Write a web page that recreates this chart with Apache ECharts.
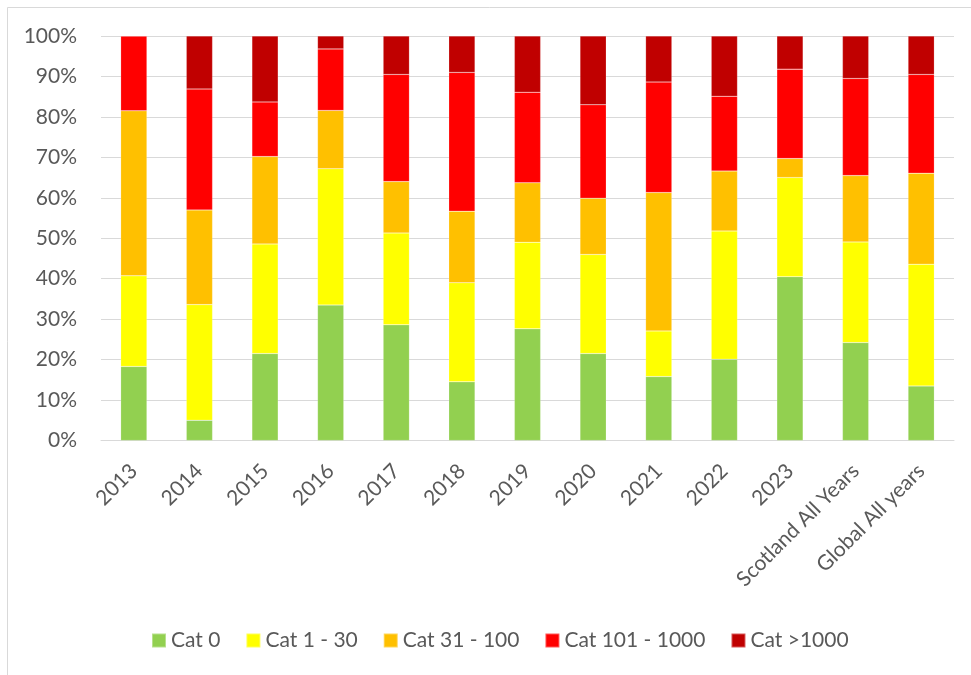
<!DOCTYPE html>
<html>
<head>
<meta charset="utf-8">
<script src="https://cdn.jsdelivr.net/npm/echarts@6/dist/echarts.min.js"></script>
<style>html,body{margin:0;padding:0;background:#fff}#c{width:971px;height:675px}</style>
</head>
<body>
<div id="c"></div>
<script>
const categories = ['2013','2014','2015','2016','2017','2018','2019','2020','2021','2022','2023','Scotland All Years','Global All years'];
const cat0      = [18.3, 5.0, 21.5, 33.5, 28.6, 14.5, 27.6, 21.5, 15.8, 20.1, 40.5, 24.2, 13.5];
const cat1_30   = [22.4, 28.6, 27.1, 33.7, 22.7, 24.5, 21.4, 24.5, 11.3, 31.7, 24.5, 24.9, 30.1];
const cat31_100 = [40.8, 23.4, 21.6, 14.4, 12.7, 17.7, 14.7, 13.9, 34.2, 14.8, 4.7, 16.4, 22.5];
const cat101_1000 = [18.5, 29.9, 13.5, 15.2, 26.5, 34.3, 22.4, 23.1, 27.3, 18.5, 22.1, 24.0, 24.4];
const cat1000   = [0.0, 13.1, 16.3, 3.2, 9.5, 9.0, 13.9, 17.0, 11.4, 14.9, 8.2, 10.5, 9.5];
const seriesNames = ['Cat 0','Cat 1 - 30','Cat 31 - 100','Cat 101 - 1000','Cat >1000'];
const seriesColors = ['#92D050','#FFFF00','#FFC000','#FF0000','#C00000'];
const yTicks = [0,10,20,30,40,50,60,70,80,90,100];

const seriesData = [cat0, cat1_30, cat31_100, cat101_1000, cat1000];
const font = 'Lato, "Open Sans", sans-serif';

const chart = echarts.init(document.getElementById('c'), null, {renderer:'canvas'});
chart.setOption({
  animation: false,
  backgroundColor: '#fff',
  graphic: [{
    type: 'rect', shape: {x: 7.5, y: 7.5, width: 1200, height: 1200},
    style: {fill: 'none', stroke: '#d9d9d9', lineWidth: 1}, silent: true, z: -1
  }],
  grid: {left: 101, right: 17, top: 36, bottom: 234.5},
  legend: {
    left: 146, top: 625, itemWidth: 14, itemHeight: 14, itemGap: 25,
    icon: 'rect',
    textStyle: {fontFamily: font, fontSize: 21, color: '#595959'},
    data: seriesNames
  },
  xAxis: {
    type: 'category', data: categories,
    axisLine: {lineStyle: {color: '#d9d9d9', width: 1}},
    axisTick: {show: false},
    axisLabel: {rotate: 45, interval: 0, margin: 27, fontFamily: font, fontSize: 21, color: '#595959'}
  },
  yAxis: {
    type: 'value', min: 0, max: 100, interval: 10,
    axisLine: {show: false}, axisTick: {show: false},
    splitLine: {lineStyle: {color: '#d9d9d9', width: 1}},
    axisLabel: {margin: 24, fontFamily: font, fontSize: 21, color: '#595959',
      formatter: v => yTicks.includes(v) ? v + '%' : ''}
  },
  series: seriesNames.map((n, i) => ({
    name: n, type: 'bar', stack: 'total', barCategoryGap: '60%',
    itemStyle: {color: seriesColors[i], borderColor: 'rgba(255,255,255,0.35)', borderWidth: 0.5},
    data: seriesData[i]
  }))
});
</script>
</body>
</html>
